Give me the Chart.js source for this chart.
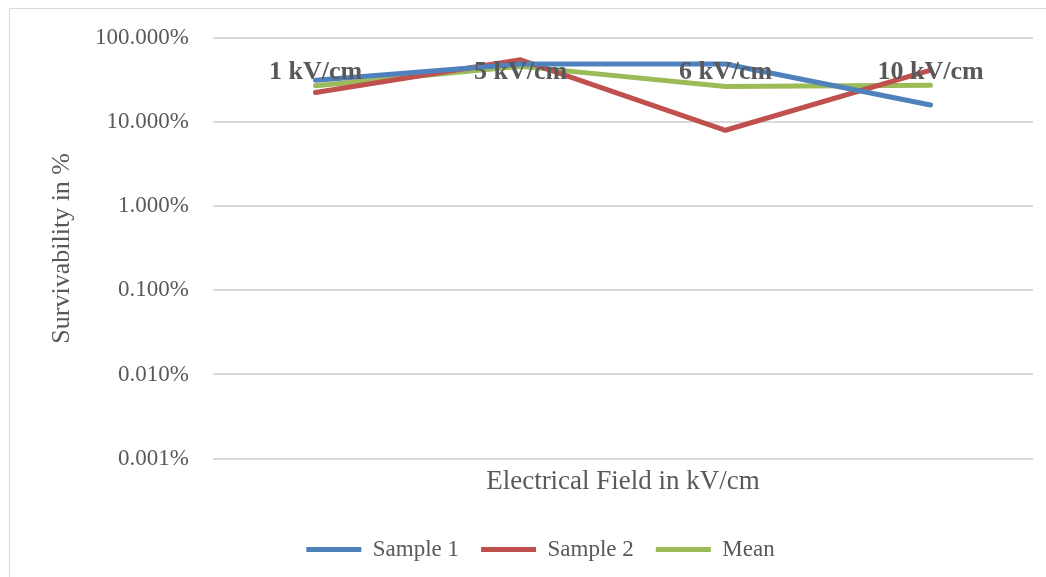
<!DOCTYPE html>
<html>
<head>
<meta charset="utf-8">
<script src="https://cdn.jsdelivr.net/npm/chart.js@4/dist/chart.umd.min.js"></script>
<style>
  html, body { margin: 0; padding: 0; background: #fff; }
  #wrap {
    position: absolute; left: 9px; top: 8px;
    width: 1036px; height: 568px;
    border-left: 1px solid #d9d9d9; border-top: 1px solid #d9d9d9;
  }
</style>
</head>
<body>
<div id="wrap"><canvas id="chart"></canvas></div>
<script>
/* ---- data (survivability in %) ---- */
const fields = ["1 kV/cm", "5 kV/cm", "6 kV/cm", "10 kV/cm"];
const sample1 = [31.5, 49, 49, 16];
const sample2 = [22.5, 55, 8, 41.5];
const mean = [27, 46, 26.5, 27.5];
const yTicks = [0.001, 0.01, 0.1, 1, 10, 100];

const serif = "'Liberation Serif', 'Times New Roman', serif";
const textGrey = "#595959";

// category names sit inside the plot, near the top
const fieldLabels = {
    id: "fieldLabels",
    afterDatasetsDraw(chart) {
        const ctx = chart.ctx;
        const xs = chart.scales.x;
        ctx.save();
        ctx.font = "bold 26px " + serif;
        ctx.fillStyle = textGrey;
        ctx.textAlign = "center";
        ctx.textBaseline = "middle";
        fields.forEach((f, i) => {
            ctx.fillText(f, xs.getPixelForValue(i), chart.chartArea.top + 34);
        });
        ctx.restore();
    }
};

const ctx = document.getElementById("chart").getContext("2d");

new Chart(ctx, {
    type: "line",
    data: {
        labels: fields,
        datasets: [
            { label: "Sample 1", data: sample1, borderColor: "#4f81bd", backgroundColor: "#4f81bd" },
            { label: "Sample 2", data: sample2, borderColor: "#c0504d", backgroundColor: "#c0504d" },
            { label: "Mean", data: mean, borderColor: "#9bbb59", backgroundColor: "#9bbb59" }
        ]
    },
    options: {
        responsive: true,
        maintainAspectRatio: false,
        animation: false,
        layout: { padding: { top: 29, right: 13, bottom: 6, left: 38 } },
        elements: {
            line: { borderWidth: 5, tension: 0, borderCapStyle: "round", borderJoinStyle: "round" },
            point: { radius: 0, hoverRadius: 0, borderWidth: 5 }
        },
        plugins: {
            legend: {
                position: "bottom",
                labels: {
                    font: { family: serif, size: 23 },
                    color: textGrey,
                    usePointStyle: true,
                    pointStyle: "line",
                    pointStyleWidth: 55,
                    padding: 22
                }
            },
            tooltip: { enabled: false }
        },
        scales: {
            x: {
                offset: true,
                grid: { display: false, drawTicks: false },
                border: { display: false },
                ticks: { display: false },
                title: {
                    display: true,
                    text: "Electrical Field in kV/cm",
                    font: { family: serif, size: 27 },
                    color: textGrey,
                    padding: { top: 7, bottom: 18 }
                }
            },
            y: {
                type: "logarithmic",
                min: 0.001,
                max: 100,
                afterBuildTicks: (axis) => {
                    axis.ticks = yTicks.map(v => ({ value: v }));
                },
                afterFit: (axis) => { axis.width = 165; },
                grid: {
                    color: "#d9d9d9", lineWidth: 2,
                    drawTicks: true, tickLength: 24, tickColor: "rgba(0,0,0,0)"
                },
                border: { display: false },
                ticks: {
                    padding: 0,
                    font: { family: serif, size: 23 },
                    color: textGrey,
                    callback: (v) => v.toFixed(3) + "%"
                },
                title: {
                    display: true,
                    text: "Survivability in %",
                    font: { family: serif, size: 26, lineHeight: 0.9 },
                    color: textGrey,
                    padding: { top: 2, bottom: 0 }
                }
            }
        }
    },
    plugins: [fieldLabels]
});
</script>
</body>
</html>
